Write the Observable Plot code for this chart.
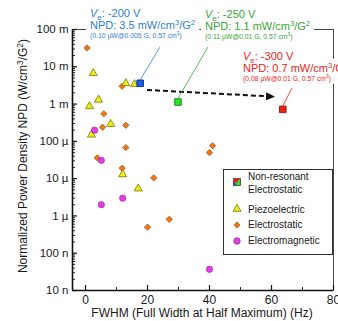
<!DOCTYPE html>
<html><head><meta charset="utf-8">
<script src="https://cdn.jsdelivr.net/npm/d3@7"></script>
<script src="https://cdn.jsdelivr.net/npm/@observablehq/plot@0.6"></script>
<style>
html,body{margin:0;padding:0;background:#fff;}
#chart{position:relative;width:338px;height:321px;overflow:hidden;}
#chart svg{font-family:"Liberation Sans",Arial,sans-serif;}
</style></head><body><div id="chart"></div>
<script>
// ---- data ----
const piezoFWHM = [2.5, 13, 15.8, 4.2, 1.3, 8.1, 1.9, 12, 17];
const piezoNPD  = [6.7e-3, 3.6e-3, 3.4e-3, 1.3e-3, 0.87e-3, 0.29e-3, 0.15e-3, 13e-6, 5.4e-6];
const electrostaticFWHM = [0.5, 11.8, 5.9, 5.5, 13, 13, 41, 40, 3.8, 11.8, 22, 27, 20];
const electrostaticNPD  = [32e-3, 3.0e-3, 0.55e-3, 0.24e-3, 0.27e-3, 68e-6, 76e-6, 50e-6, 36e-6, 19e-6, 10.5e-6, 0.81e-6, 0.5e-6];
const electromagneticFWHM = [2.9, 5.1, 12, 5.1, 40];
const electromagneticNPD  = [0.20e-3, 31e-6, 3.0e-6, 2.0e-6, 37e-9];
const nonResVoltage = ["-200 V", "-250 V", "-300 V"];
const nonResFWHM = [17.8, 30, 63.8];
const nonResNPD  = [3.5e-3, 1.1e-3, 0.7e-3];
const nonResNPDText = ["3.5", "1.1", "0.7"];
const nonResDetail = ["(0.10 µW@0.005 G, 0.57 cm", "(0.11 µW@0.01 G, 0.57 cm", "(0.08 µW@0.01 G, 0.57 cm"];
const nonResColors = ["#1b5ef2", "#2fe02f", "#e82414"];
const nonResStroke = ["#0b2a8a", "#1d7a1d", "#8e1208"];
const nonResTextColors = ["#2f80d6", "#35a535", "#ea2418"];
const arrowFWHM = [20, 61.3];
const arrowNPD  = [2.32e-3, 1.53e-3];

const xTicks = [0, 20, 40, 60, 80];
const xMinorTicks = [10, 30, 50, 70];
const yTicks = [1e-8, 1e-7, 1e-6, 1e-5, 1e-4, 1e-3, 1e-2, 1e-1];
const yTickLabels = ["10 n", "100 n", "1 µ", "10 µ", "100 µ", "1 m", "10 m", "100 m"];
const legendLabels = [["Non-resonant", "Electrostatic"], ["Piezoelectric"], ["Electrostatic"], ["Electromagnetic"]];

const xDomain = [-4.2, 80];
const yDomain = [1e-8, 1e-1];

// ---- build ----
const toRows = (xs, ys) => xs.map((x, i) => ({x, y: ys[i], i}));
const piezo = toRows(piezoFWHM, piezoNPD);
const estat = toRows(electrostaticFWHM, electrostaticNPD);
const emag = toRows(electromagneticFWHM, electromagneticNPD);
const nonres = toRows(nonResFWHM, nonResNPD);

const yMinor = [];
for (let k = -8; k < -1; k++) for (let m = 2; m <= 9; m++) yMinor.push(m * Math.pow(10, k));

const pxPerX = (333 - 72) / (xDomain[1] - xDomain[0]);
const pxPerDecade = (290 - 29) / 7;
const labelMap = new Map(yTicks.map((t, i) => [t, yTickLabels[i]]));

const plot = Plot.plot({
  width: 338, height: 321,
  marginLeft: 72, marginRight: 5, marginTop: 29, marginBottom: 31,
  style: {fontFamily: "Liberation Sans, Arial, sans-serif", fontSize: "12px", color: "#1a1a1a", background: "white"},
  x: {domain: xDomain, label: null},
  y: {type: "log", domain: yDomain, label: null},
  marks: [
    Plot.frame({stroke: "#444", strokeWidth: 1}),
    Plot.ruleX([xDomain[0]], {stroke: "#111", strokeWidth: 1.6}),
    Plot.ruleY([yDomain[0]], {stroke: "#111", strokeWidth: 1.6}),
    Plot.ruleY(yTicks, {x1: xDomain[0], x2: xDomain[0] + 5 / pxPerX, stroke: "#111", strokeWidth: 1.2}),
    Plot.ruleY(yMinor, {x1: xDomain[0], x2: xDomain[0] + 3 / pxPerX, stroke: "#111", strokeWidth: 0.9}),
    Plot.ruleX(xTicks, {y1: yDomain[0], y2: yDomain[0] * Math.pow(10, 5 / pxPerDecade), stroke: "#111", strokeWidth: 1.2}),
    Plot.ruleX(xMinorTicks, {y1: yDomain[0], y2: yDomain[0] * Math.pow(10, 3 / pxPerDecade), stroke: "#111", strokeWidth: 0.9}),
    Plot.axisX({ticks: xTicks, tickSize: 0, tickPadding: 5, fontSize: 12, label: null}),
    Plot.axisY({ticks: yTicks, tickFormat: d => labelMap.get(d), tickSize: 0, tickPadding: 4, fontSize: 11.5, label: null}),
    Plot.dot(estat, {x: "x", y: "y", symbol: "diamond2", r: 2.8, fill: "#f0781c", stroke: "#a8500e", strokeWidth: 0.8}),
    Plot.dot(piezo, {x: "x", y: "y", symbol: "triangle", r: 3.0, fill: "#eeee14", stroke: "#77770c", strokeWidth: 0.8}),
    Plot.dot(emag, {x: "x", y: "y", symbol: "circle", r: 3.2, fill: "#e040e0", stroke: "#a824a8", strokeWidth: 0.6})
  ]
});
document.getElementById("chart").appendChild(plot);

const svg = d3.select(plot);
const sx = plot.scale("x"), sy = plot.scale("y");
const X = v => sx.apply(v), Y = v => sy.apply(v);

// axis titles
svg.append("text").attr("transform", "translate(27,156) rotate(-90)").attr("text-anchor", "middle")
  .attr("font-size", 12).attr("fill", "#1a1a1a")
  .call(t => { t.append("tspan").text("Normalized Power Density NPD (W/cm");
               t.append("tspan").attr("font-size", 8.5).attr("dy", -4).text("3");
               t.append("tspan").attr("dy", 4).text("/G");
               t.append("tspan").attr("font-size", 8.5).attr("dy", -4).text("2");
               t.append("tspan").attr("dy", 4).text(")"); });
svg.append("text").attr("x", 202).attr("y", 317).attr("text-anchor", "middle")
  .attr("font-size", 12).attr("fill", "#1a1a1a").text("FWHM (Full Width at Half Maximum) (Hz)");

// dashed arrow
const ax0 = X(arrowFWHM[0]), ay0 = Y(arrowNPD[0]), ax1 = X(arrowFWHM[1]), ay1 = Y(arrowNPD[1]);
const ang = Math.atan2(ay1 - ay0, ax1 - ax0), hl = 9, hw = 4;
const bx = ax1 - hl * Math.cos(ang), by = ay1 - hl * Math.sin(ang);
svg.append("line").attr("x1", ax0).attr("y1", ay0).attr("x2", bx).attr("y2", by)
  .attr("stroke", "#111").attr("stroke-width", 2).attr("stroke-dasharray", "5,3");
svg.append("path").attr("fill", "#111").attr("d",
  `M${ax1},${ay1}L${bx - hw * Math.sin(ang)},${by + hw * Math.cos(ang)}L${bx + hw * Math.sin(ang)},${by - hw * Math.cos(ang)}Z`);

// rich text helper
function rich(g, x, y, segs, size, color) {
  const t = g.append("text").attr("x", x).attr("y", y).attr("fill", color).attr("font-size", size)
    .attr("text-anchor", "start");
  let shift = 0;
  for (const [s, kind] of segs) {
    const ts = t.append("tspan").text(s);
    let target = 0;
    if (kind === "sup") { target = -size * 0.38; ts.attr("font-size", size * 0.7); }
    if (kind === "sub") { target = size * 0.25; ts.attr("font-size", size * 0.72); }
    if (kind === "i") ts.attr("font-style", "italic");
    if (target !== shift) { ts.attr("dy", target - shift); shift = target; }
  }
  return t;
}
function withBg(g, t, padX, padY) {
  const b = t.node().getBBox();
  g.insert("rect", ":first-child").attr("x", b.x - padX).attr("y", b.y - padY)
    .attr("width", b.width + 2 * padX).attr("height", b.height + 2 * padY).attr("fill", "white");
}

// annotations
const annPos = [[90, 17, 160, 47], [205, 18, 208, 47], [243, 60, 292, 88]];
nonres.forEach((d, i) => {
  const [tx, ty, lx, ly] = annPos[i];
  const col = nonResTextColors[i];
  svg.append("line").attr("x1", X(d.x)).attr("y1", Y(d.y) - 3.5).attr("x2", lx).attr("y2", ly)
    .attr("stroke", col).attr("stroke-width", 0.8);
  const g = svg.append("g");
  const t1 = rich(g, tx, ty, [["V", "i"], ["e", "sub"], [": " + nonResVoltage[i]]], 11, col);
  const t2 = rich(g, tx, ty + 12, [["NPD: " + nonResNPDText[i] + " mW/cm"], ["3", "sup"], ["/G"], ["2", "sup"]], 11, col);
  const t3 = rich(g, tx, ty + 21, [[nonResDetail[i]], ["3", "sup"], [")"]], 6.8, col);
  withBg(g, t1, 3, 1); withBg(g, t2, 4, 2); withBg(g, t3, 3, 1);
});
// non-resonant squares, placed through Plot's scales, above the leader lines
nonres.forEach((d, i) => {
  svg.append("path").attr("transform", `translate(${X(d.x)},${Y(d.y)})`)
    .attr("d", d3.symbol(d3.symbolSquare, Math.PI * 3.7 * 3.7)()).attr("fill", nonResColors[i])
    .attr("stroke", nonResStroke[i]).attr("stroke-width", 0.9);
});

// legend
const lg = svg.append("g").attr("text-anchor", "start");
lg.append("rect").attr("x", 223.5).attr("y", 169.5).attr("width", 109).attr("height", 85)
  .attr("fill", "white").attr("stroke", "#333").attr("stroke-width", 1);
const icx = 237, ltx = 248;
const s = 3.6, cy0 = 182;
lg.append("rect").attr("x", icx - s).attr("y", cy0 - s).attr("width", 2 * s).attr("height", 2 * s).attr("fill", nonResColors[2]);
lg.append("path").attr("d", `M${icx + s},${cy0 - s}L${icx + s},${cy0 + s}L${icx - s},${cy0 + s}Z`).attr("fill", nonResColors[1]);
lg.append("path").attr("d", `M${icx - s},${cy0 + s * 0.1}L${icx - s},${cy0 + s}L${icx + s * 0.1},${cy0 + s}Z`).attr("fill", nonResColors[0]);
lg.append("rect").attr("x", icx - s).attr("y", cy0 - s).attr("width", 2 * s).attr("height", 2 * s).attr("fill", "none").attr("stroke", "#333").attr("stroke-width", 0.6);
const legendRows = [
  {y: 180, sym: null},
  {y: 212.5, sym: d3.symbolTriangle, r: 3.0, fill: "#eeee14", stroke: "#77770c", cy: 209},
  {y: 228, sym: d3.symbolDiamond2, r: 2.8, fill: "#f0781c", stroke: "#a8500e", cy: 225},
  {y: 244, sym: d3.symbolCircle, r: 3.2, fill: "#e040e0", stroke: "#a824a8", cy: 241}
];
legendRows.forEach((row, i) => {
  legendLabels[i].forEach((lab, j) => {
    lg.append("text").attr("x", ltx).attr("y", row.y + j * 13).attr("font-size", 10)
      .attr("text-anchor", "start").attr("fill", "#1a1a1a").text(lab);
  });
  if (row.sym) {
    lg.append("path").attr("transform", `translate(${icx},${row.cy})`)
      .attr("d", d3.symbol(row.sym, Math.PI * row.r * row.r)()).attr("fill", row.fill)
      .attr("stroke", row.stroke).attr("stroke-width", 0.8);
  }
});
</script></body></html>
